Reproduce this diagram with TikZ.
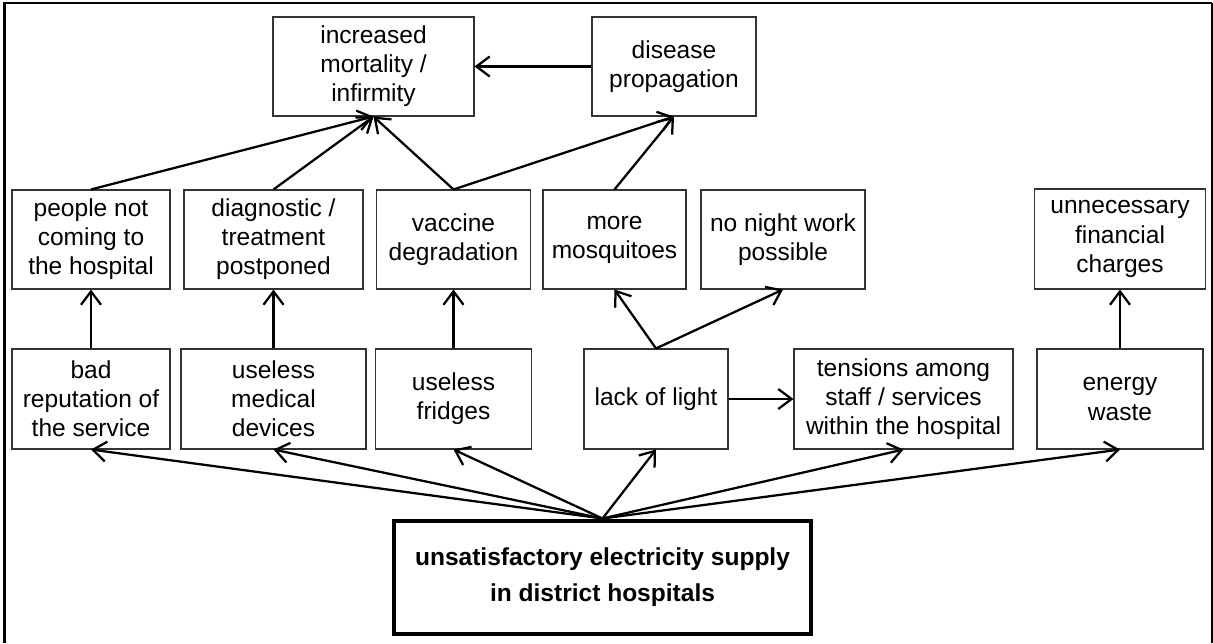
\documentclass[tikz,border=0pt]{standalone}
\usepackage{fontspec}
\setmainfont{Liberation Sans}
\usetikzlibrary{arrows.meta}
\tikzset{
  box/.style 2 args={draw=black!80, line width=0.8pt, rectangle, align=center,
    minimum width=#1*0.75pt, minimum height=#2*0.75pt, inner sep=0pt,
    font=\fontsize{18.4}{21.8}\selectfont},
  mainbox/.style={draw=black, line width=3pt, rectangle, align=center,
    minimum width=417*0.75pt, minimum height=113*0.75pt, inner sep=0pt,
    font=\fontsize{18.4}{27}\selectfont\bfseries},
  conn/.style={line width=1.7pt, -{Straight Barb[length=10pt,width=15pt,line width=1.7pt]}},
  frameline/.style={line width=1.6pt}
}
\begin{document}
\begin{tikzpicture}[x=0.75pt,y=-0.75pt]
\useasboundingbox (0,0) rectangle (1213,643);
% frame
\draw[frameline] (4.5,643) -- (4.5,2.7) -- (1212,2.7);
\draw[line width=0.9pt] (1212,2.7) -- (1212,643);

% top row
\node[box={201}{99}] (mort) at (373.5,66.5) {increased\\mortality /\\infirmity};
\node[box={164}{99}] (dis) at (674,66.5) {disease\\propagation};

% middle row
\node[box={158}{99}] (people) at (91,239.5) {people not\\coming to\\the hospital};
\node[box={179}{99}] (diag) at (273.5,239.5) {diagnostic /\\treatment\\postponed};
\node[box={154}{99}] (vacc) at (453.5,239.5) {vaccine\\degradation};
\node[box={143}{99}] (mosq) at (614.5,239.5) {more\\mosquitoes};
\node[box={164}{99}] (night) at (783,239.5) {no night work\\possible};
\node[box={171}{100}] (fin) at (1120,239) {unnecessary\\financial\\charges};

% bottom row
\node[box={158}{100}] (bad) at (91,399) {bad\\reputation of\\the service};
\node[box={185}{100}] (med) at (273.5,399) {useless\\medical\\devices};
\node[box={156}{100}] (fridge) at (453.5,399) {useless\\fridges};
\node[box={144}{100}] (light) at (656,399) {lack of light};
\node[box={219}{100}] (tens) at (903.5,399) {tensions among\\staff / services\\within the hospital};
\node[box={166}{100}] (energy) at (1120,399) {energy\\waste};

% main
\node[mainbox] (main) at (602.5,577) {unsatisfactory electricity supply\\in district hospitals};

% connectors from main
\foreach \t in {bad,med,fridge,light,tens,energy}
  \draw[conn] (main.north) -- (\t.south);

% vertical
\draw[conn] (bad.north) -- (people.south);
\draw[conn] (med.north) -- (diag.south);
\draw[conn] (fridge.north) -- (vacc.south);
\draw[conn] (energy.north) -- (fin.south);
\draw[conn] (light.north) -- (mosq.south);
\draw[conn] (light.north) -- (night.south);
\draw[conn] (light.east) -- (tens.west);

% to top row
\draw[conn] (people.north) -- (mort.south);
\draw[conn] (diag.north) -- (mort.south);
\draw[conn] (vacc.north) -- (mort.south);
\draw[conn] (vacc.north) -- (dis.south);
\draw[conn] (mosq.north) -- (dis.south);
\draw[conn] (dis.west) -- (mort.east);
\end{tikzpicture}
\end{document}
